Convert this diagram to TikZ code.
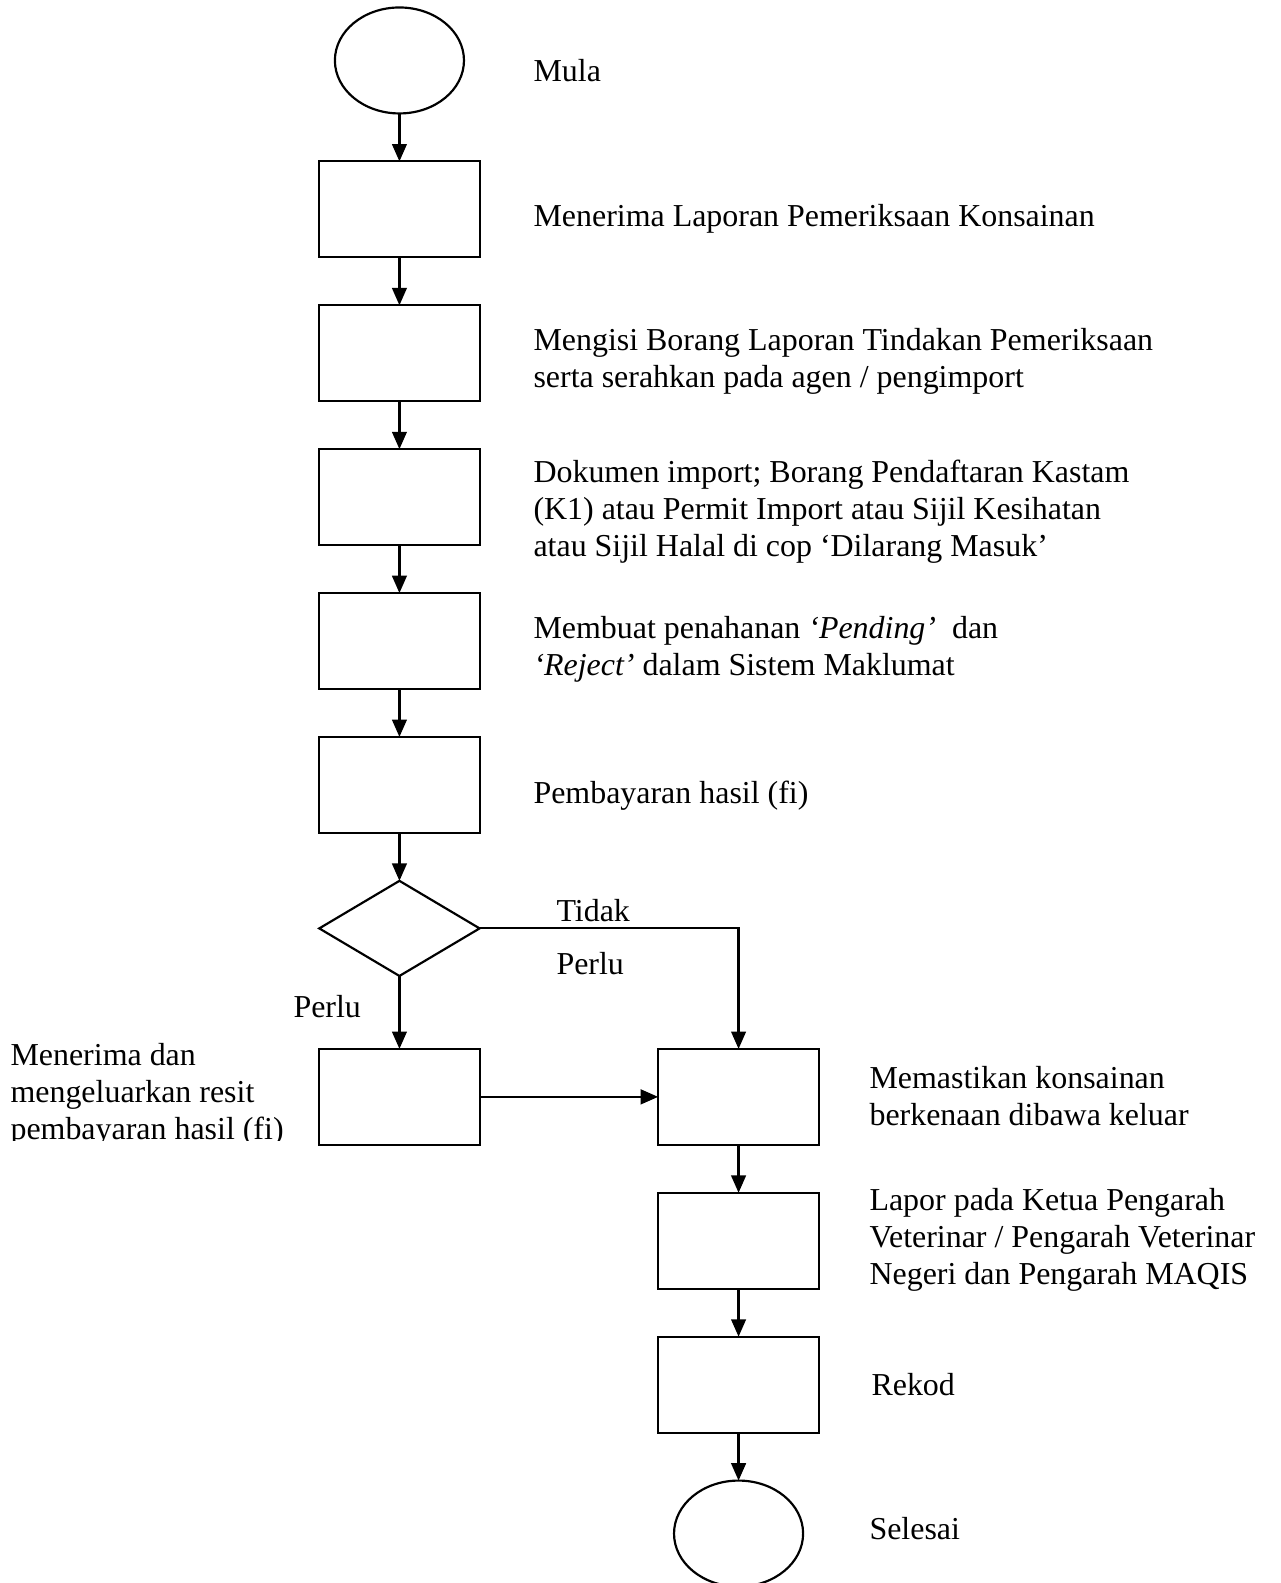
\documentclass[tikz,border=0pt]{standalone}
\usepackage{fontspec}
\setmainfont{Liberation Serif}
\usetikzlibrary{arrows.meta,matrix,shapes.geometric}

\tikzset{
  box/.style={draw,line width=0.8pt,minimum width=59.2pt,minimum height=35.3pt,inner sep=0pt,outer sep=0pt},
  term/.style={draw,ellipse,line width=0.8pt,minimum width=47.5pt,minimum height=39pt,inner sep=0pt,outer sep=0pt},
  dec/.style={draw,diamond,line width=0.8pt,minimum width=59pt,minimum height=35pt,inner sep=0pt,outer sep=0pt},
  txt/.style={anchor=west,align=left,inner sep=0pt,font=\fontsize{11.75}{13.6}\selectfont},
  flow/.style={-{Triangle[length=6.4pt,width=5.4pt]},line width=0.8pt}
}

\begin{document}
\begin{tikzpicture}[x=0.368pt,y=-0.368pt,ampersand replacement=\&]
    \useasboundingbox (0,0) rectangle (1280,1583);
    \matrix (m) [row sep=16.85pt,column sep=64.8pt] at (569,797) {
      \node[term] (mula) {}; \& \\
      \node[box] (terima) {}; \& \\
      \node[box] (isi) {}; \& \\
      \node[box] (dokumen) {}; \& \\
      \node[box] (tahan) {}; \& \\
      \node[box] (bayar) {}; \& \\
      \node[dec] (perlu) {}; \& \\[9.2pt]
      \node[box] (resit) {}; \& \node[box] (keluar) {}; \\
      \& \node[box] (lapor) {}; \\
      \& \node[box] (rekod) {}; \\
      \& \node[term] (selesai) {}; \\
    };
    \draw[flow]
    (mula) edge (terima)
    (terima) edge (isi)
    (isi) edge (dokumen)
    (dokumen) edge (tahan)
    (tahan) edge (bayar)
    (bayar) edge (perlu)
    (perlu) edge (resit)
    (resit) edge (keluar)
    (keluar) edge (lapor)
    (lapor) edge (rekod)
    (rekod) edge (selesai);
    \draw[flow] (perlu.east) -| (keluar);
    \node[txt] (tmula) at (533,71) {Mula};
    \node[txt] (tterima) at (533,219) {Menerima Laporan Pemeriksaan Konsainan};
    \node[txt] (tisi) at (533,361) {Mengisi Borang Laporan Tindakan Pemeriksaan\\serta serahkan pada agen / pengimport};
    \node[txt] (tdokumen) at (533,512) {Dokumen import; Borang Pendaftaran Kastam\\(K1) atau Permit Import atau Sijil Kesihatan\\atau Sijil Halal di cop ‘Dilarang Masuk’};
    \node[txt] (ttahan) at (533,649) {Membuat penahanan \textit{‘Pending’}\ \ dan\\\textit{‘Reject’} dalam Sistem Maklumat};
    \node[txt] (tbayar) at (533,796) {Pembayaran hasil (fi)};
    \node[txt] (ttidak) at (556,911) {Tidak};
    \node[txt] (tperlu) at (556,964) {Perlu};
    \node[txt] (tya) at (293,1007) {Perlu};
    \begin{scope}
      \clip (0,0) rectangle (320,1140);
      \node[txt] (tresit) at (10,1095) {Menerima dan\\mengeluarkan resit\\pembayaran hasil (fi)};
    \end{scope}
    \node[txt] (tkeluar) at (869,1096) {Memastikan konsainan\\berkenaan dibawa keluar};
    \node[txt] (tlapor) at (869,1240) {Lapor pada Ketua Pengarah\\Veterinar / Pengarah Veterinar\\Negeri dan Pengarah MAQIS};
    \node[txt] (trekod) at (871,1385) {Rekod};
    \node[txt] (tselesai) at (869,1529) {Selesai};
  \end{tikzpicture}
\end{document}
